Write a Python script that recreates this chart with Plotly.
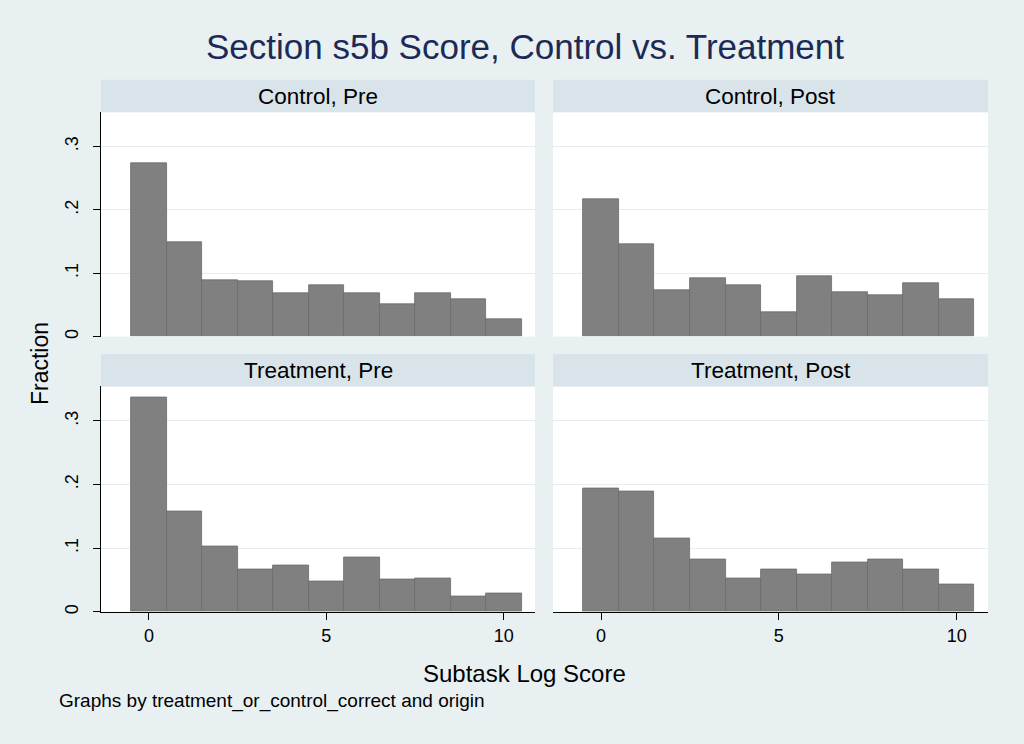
import plotly.graph_objects as go

# histogram bins (subtask log score) and fraction per panel
bins = [0, 1, 2, 3, 4, 5, 6, 7, 8, 9, 10]
control_pre = [0.274, 0.149, 0.089, 0.087, 0.068, 0.081, 0.068, 0.051, 0.068, 0.059, 0.027]
control_post = [0.217, 0.146, 0.073, 0.092, 0.081, 0.038, 0.095, 0.070, 0.065, 0.084, 0.059]
treatment_pre = [0.336, 0.157, 0.103, 0.067, 0.073, 0.048, 0.086, 0.051, 0.053, 0.024, 0.029]
treatment_post = [0.194, 0.189, 0.116, 0.083, 0.053, 0.067, 0.059, 0.078, 0.083, 0.067, 0.043]

panel_titles = ["Control, Pre", "Control, Post", "Treatment, Pre", "Treatment, Post"]
panel_values = [control_pre, control_post, treatment_pre, treatment_post]

y_ticks = [0, 0.1, 0.2, 0.3]
y_labels = ["0", ".1", ".2", ".3"]
x_ticks = [0, 5, 10]

BG = "#e8f0f2"
STRIP = "#d8e4ea"
GRID = "#e4eef2"
FONT = "Liberation Sans, Arial, sans-serif"

W, H = 1024, 744

def px_x(p):
    return p / W

def px_y(p):
    return 1 - p / H

# panel boxes in pixels (left, right, top, bottom)
boxes = [
    (101, 535, 112.5, 337.5),
    (553, 988, 112.5, 337.5),
    (101, 535, 387.5, 613.5),
    (553, 988, 387.5, 613.5),
]

fig = go.Figure()
layout = {}
for i, (vals, box) in enumerate(zip(panel_values, boxes)):
    n = "" if i == 0 else str(i + 1)
    fig.add_trace(go.Bar(
        x=bins, y=vals, width=1,
        marker=dict(color="#808080", line=dict(color="#6a6a6a", width=0.8)),
        xaxis="x" + n, yaxis="y" + n, showlegend=False,
    ))
    left, right, top, bottom = box
    bottom_row = i >= 2
    left_col = i % 2 == 0
    layout["xaxis" + n] = dict(
        domain=[px_x(left), px_x(right)], range=[-1.35, 10.88],
        anchor="y" + n, showgrid=False, zeroline=False,
        tickvals=x_ticks if bottom_row else [],
        showticklabels=bottom_row,
        ticks="outside" if bottom_row else "", ticklen=7, tickcolor="black",
        showline=bottom_row, linecolor="black", linewidth=1.2,
        tickfont=dict(size=18, color="black", family=FONT),
        fixedrange=True,
    )
    layout["yaxis" + n] = dict(
        domain=[px_y(bottom), px_y(top)], range=[0, 0.354],
        anchor="x" + n, showgrid=True, gridcolor=GRID, gridwidth=1.2,
        zeroline=False,
        tickvals=y_ticks, ticktext=y_labels,
        showticklabels=left_col, tickangle=-90, ticklabelstandoff=8,
        ticks="outside" if left_col else "", ticklen=7, tickcolor="black",
        showline=left_col, linecolor="black", linewidth=1.2,
        tickfont=dict(size=18, color="black", family=FONT),
        fixedrange=True,
    )

shapes = []
annotations = []
for title, box in zip(panel_titles, boxes):
    left, right, top, bottom = box
    shapes.append(dict(
        type="rect", xref="paper", yref="paper", layer="below",
        x0=px_x(left), x1=px_x(right), y0=px_y(top), y1=px_y(top - 32.5),
        fillcolor=STRIP, line=dict(width=0),
    ))
    annotations.append(dict(
        text=title, xref="paper", yref="paper",
        x=px_x((left + right) / 2), y=px_y(top - 16),
        xanchor="center", yanchor="middle", showarrow=False,
        font=dict(size=22.5, color="black", family=FONT),
    ))

annotations.append(dict(
    text="Subtask Log Score", xref="paper", yref="paper",
    x=px_x(524), y=px_y(675), xanchor="center", yanchor="middle",
    showarrow=False, font=dict(size=24, color="black", family=FONT),
))
annotations.append(dict(
    text="Fraction", xref="paper", yref="paper",
    x=px_x(40), y=px_y(365), xanchor="center", yanchor="middle",
    textangle=-90, showarrow=False,
    font=dict(size=23, color="black", family=FONT),
))
annotations.append(dict(
    text="Graphs by treatment_or_control_correct and origin",
    xref="paper", yref="paper",
    x=px_x(57), y=px_y(703), xanchor="left", yanchor="middle",
    showarrow=False, font=dict(size=19, color="black", family=FONT),
))

fig.update_layout(
    width=W, height=H,
    margin=dict(l=0, r=0, t=0, b=0),
    paper_bgcolor=BG, plot_bgcolor="white",
    bargap=0,
    title=dict(
        text="Section s5b Score, Control vs. Treatment",
        x=px_x(525), y=px_y(47), xanchor="center", yanchor="middle",
        font=dict(size=35, color="#1c2a56", family=FONT),
    ),
    shapes=shapes, annotations=annotations,
    **layout,
)

fig.write_html("out.html", config={"displayModeBar": False},
               post_script="document.body.style.margin='0';")
